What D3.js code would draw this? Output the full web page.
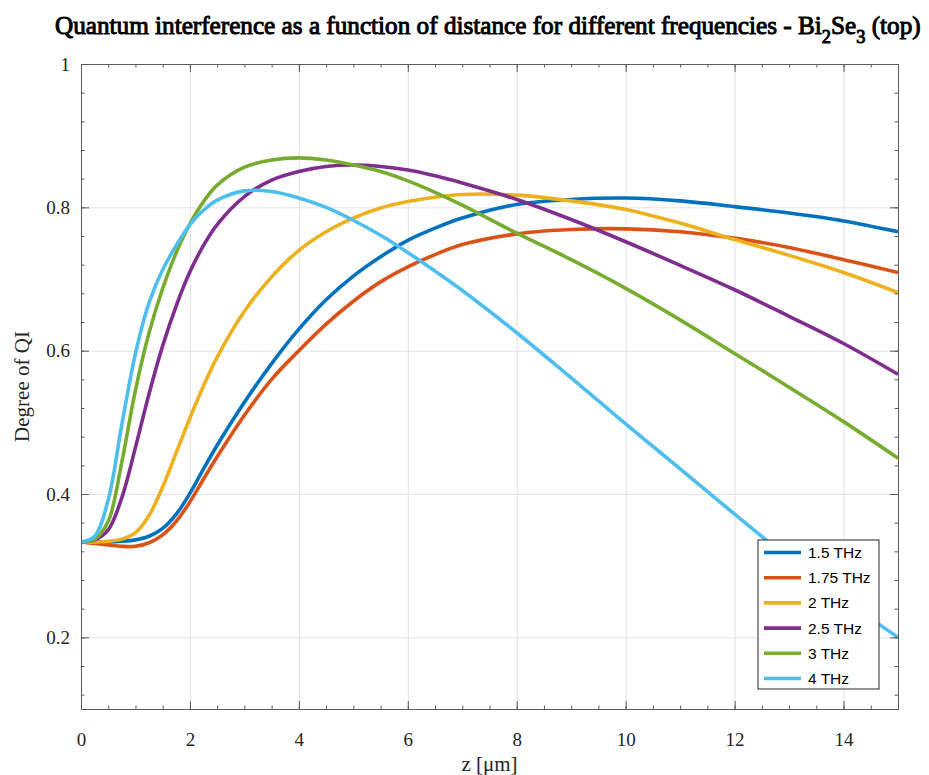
<!DOCTYPE html>
<html>
<head>
<meta charset="utf-8">
<script src="https://cdn.jsdelivr.net/npm/d3@7"></script>
<style>
  body { margin: 0; background: #fff; }
  svg { display: block; }
</style>
</head>
<body>
<div id="chart"></div>
<script>
// distance samples (um) shared by all series
const zValues = [0, 0.25, 0.5, 0.75, 1, 1.25, 1.5, 1.75, 2, 2.25, 2.5, 3, 3.5, 4, 4.5, 5, 5.5, 6, 6.5, 7, 8, 9, 10, 11, 12, 13, 14, 15];

const seriesNames = ["1.5 THz", "1.75 THz", "2 THz", "2.5 THz", "3 THz", "4 THz"];

const qi15 = [0.333, 0.333, 0.333, 0.334, 0.336, 0.341, 0.352, 0.372, 0.401, 0.435, 0.468, 0.528, 0.582, 0.630, 0.671, 0.704, 0.731, 0.754, 0.771, 0.785, 0.804, 0.811, 0.813, 0.809, 0.801, 0.792, 0.781, 0.766];
const qi175 = [0.333, 0.331, 0.329, 0.327, 0.327, 0.332, 0.343, 0.362, 0.389, 0.421, 0.452, 0.510, 0.560, 0.600, 0.637, 0.669, 0.696, 0.717, 0.734, 0.748, 0.763, 0.769, 0.770, 0.766, 0.757, 0.744, 0.727, 0.709];
const qi2 = [0.333, 0.333, 0.334, 0.337, 0.346, 0.370, 0.410, 0.458, 0.506, 0.551, 0.591, 0.655, 0.703, 0.740, 0.766, 0.785, 0.799, 0.808, 0.814, 0.818, 0.817, 0.809, 0.797, 0.778, 0.755, 0.733, 0.709, 0.681];
const qi25 = [0.333, 0.336, 0.350, 0.395, 0.465, 0.540, 0.607, 0.663, 0.710, 0.747, 0.776, 0.815, 0.838, 0.850, 0.857, 0.859, 0.857, 0.852, 0.844, 0.834, 0.811, 0.783, 0.752, 0.719, 0.685, 0.648, 0.610, 0.567];
const qi3 = [0.333, 0.337, 0.362, 0.445, 0.545, 0.625, 0.687, 0.737, 0.777, 0.808, 0.831, 0.856, 0.866, 0.869, 0.866, 0.859, 0.850, 0.837, 0.821, 0.803, 0.764, 0.727, 0.687, 0.643, 0.596, 0.549, 0.501, 0.450];
const qi4 = [0.333, 0.341, 0.392, 0.497, 0.596, 0.667, 0.713, 0.747, 0.776, 0.796, 0.810, 0.823, 0.822, 0.813, 0.800, 0.782, 0.761, 0.737, 0.711, 0.684, 0.625, 0.562, 0.498, 0.435, 0.372, 0.310, 0.253, 0.200];

const xTicks = [0, 2, 4, 6, 8, 10, 12, 14];
const yTicks = [0.2, 0.4, 0.6, 0.8, 1];

const colors = ["#0072BD", "#D95319", "#EDB120", "#7E2F8E", "#77AC30", "#4DBEEE"];
const allSeries = [qi15, qi175, qi2, qi25, qi3, qi4];

const width = 929;
const height = 775;
const margin = { top: 64, right: 31, bottom: 66, left: 81 };
const plotW = width - margin.left - margin.right;
const plotH = height - margin.top - margin.bottom;

const serif = "'Liberation Serif', 'Times New Roman', serif";
const sans = "'Liberation Sans', Arial, sans-serif";
const axisColor = "#5c5c5c";

const svg = d3.select("#chart")
  .append("svg")
  .attr("width", width)
  .attr("height", height);

svg.append("rect").attr("width", width).attr("height", height).attr("fill", "#fff");

const g = svg.append("g")
  .attr("transform", "translate(" + margin.left + "," + margin.top + ")");

const x = d3.scaleLinear().domain([0, 15]).range([0, plotW]);
const y = d3.scaleLinear().domain([0.1, 1]).range([plotH, 0]);

// grid
g.append("g")
  .attr("transform", "translate(0," + plotH + ")")
  .call(d3.axisBottom(x).tickValues(xTicks).tickSize(-plotH).tickFormat(""))
  .call(s => s.select(".domain").remove())
  .selectAll("line").attr("stroke", "#e3e3e3");
g.append("g")
  .call(d3.axisLeft(y).tickValues(yTicks).tickSize(-plotW).tickFormat(""))
  .call(s => s.select(".domain").remove())
  .selectAll("line").attr("stroke", "#e3e3e3");

// curves
g.append("clipPath").attr("id", "clip")
  .append("rect").attr("width", plotW).attr("height", plotH);

const line = d3.line()
  .x((d, i) => x(zValues[i]))
  .y(d => y(d))
  .curve(d3.curveCatmullRom.alpha(0.5));

g.append("g")
  .attr("clip-path", "url(#clip)")
  .selectAll("path")
  .data(allSeries)
  .enter()
  .append("path")
  .attr("d", line)
  .attr("fill", "none")
  .attr("stroke", (d, i) => colors[i])
  .attr("stroke-width", 3.6)
  .attr("stroke-linejoin", "round");

// axes (ticks pointing inward, box on)
const xMinor = d3.range(0, 15.01, 0.5);
const yMinor = d3.range(0.12, 1.001, 0.04);

function styleAxis(sel) {
  sel.selectAll("line").attr("stroke", axisColor);
  sel.select(".domain").attr("stroke", axisColor);
}

g.append("g").attr("transform", "translate(0," + plotH + ")")
  .call(d3.axisBottom(x).tickValues(xMinor).tickSize(-3.5).tickSizeOuter(0).tickFormat(""))
  .call(styleAxis);
g.append("g").attr("transform", "translate(0," + plotH + ")")
  .call(d3.axisBottom(x).tickValues(xTicks).tickSize(-8).tickSizeOuter(0).tickPadding(24).tickFormat(d3.format("d")))
  .call(styleAxis);
g.append("g")
  .call(d3.axisTop(x).tickValues(xMinor).tickSize(-3.5).tickSizeOuter(0).tickFormat(""))
  .call(styleAxis);
g.append("g")
  .call(d3.axisTop(x).tickValues(xTicks).tickSize(-8).tickSizeOuter(0).tickFormat(""))
  .call(styleAxis);

g.append("g")
  .call(d3.axisLeft(y).tickValues(yMinor).tickSize(-3.5).tickSizeOuter(0).tickFormat(""))
  .call(styleAxis);
g.append("g")
  .call(d3.axisLeft(y).tickValues(yTicks).tickSize(-8).tickSizeOuter(0).tickPadding(11)
    .tickFormat(d => d === 1 ? "1" : d3.format(".1f")(d)))
  .call(styleAxis);
g.append("g").attr("transform", "translate(" + plotW + ",0)")
  .call(d3.axisRight(y).tickValues(yMinor).tickSize(-3.5).tickSizeOuter(0).tickFormat(""))
  .call(styleAxis);
g.append("g").attr("transform", "translate(" + plotW + ",0)")
  .call(d3.axisRight(y).tickValues(yTicks).tickSize(-8).tickSizeOuter(0).tickFormat(""))
  .call(styleAxis);

g.selectAll(".tick text")
  .attr("fill", "#262626")
  .style("font-family", serif)
  .style("font-size", "19px");

// axis labels
svg.append("text")
  .attr("x", margin.left + plotW / 2)
  .attr("y", 771)
  .attr("text-anchor", "middle")
  .attr("fill", "#262626")
  .style("font-family", serif)
  .style("font-size", "21px")
  .text("z [\u03bcm]");

svg.append("text")
  .attr("transform", "translate(29," + (margin.top + plotH / 2) + ") rotate(-90)")
  .attr("text-anchor", "middle")
  .attr("fill", "#262626")
  .style("font-family", serif)
  .style("font-size", "21px")
  .text("Degree of QI");

// title with subscripts, squeezed to the reference width
// (regular serif with a thin stroke, since the bold serif face is not picked up)
const title = svg.append("text")
  .attr("y", 34)
  .attr("fill", "#000")
  .attr("stroke", "#000")
  .attr("stroke-width", 1)
  .style("font-family", serif)
  .style("font-size", "26px");
title.append("tspan").text("Quantum interference as a function of distance for different frequencies - Bi");
title.append("tspan").attr("dy", 9).style("font-size", "19px").text("2");
title.append("tspan").attr("dy", -9).text("Se");
title.append("tspan").attr("dy", 9).style("font-size", "19px").text("3");
title.append("tspan").attr("dy", -9).text(" (top)");

const tw = title.node().getBBox().width;
const targetLeft = 55, targetWidth = 866;
title.attr("transform", "translate(" + targetLeft + ",0) scale(" + (targetWidth / tw) + ",1)");

// legend
const legend = svg.append("g").attr("transform", "translate(758,540)");
legend.append("rect")
  .attr("width", 121)
  .attr("height", 149)
  .attr("fill", "#fff")
  .attr("stroke", "#262626")
  .attr("stroke-width", 1);

const rows = legend.selectAll("g.row")
  .data(seriesNames)
  .enter()
  .append("g")
  .attr("class", "row")
  .attr("transform", (d, i) => "translate(0," + (12.5 + i * 25.2) + ")");

rows.append("line")
  .attr("x1", 6).attr("x2", 43)
  .attr("stroke", (d, i) => colors[i])
  .attr("stroke-width", 3.6);

rows.append("text")
  .attr("x", 50)
  .attr("dy", "0.36em")
  .attr("fill", "#000")
  .style("font-family", sans)
  .style("font-size", "15.5px")
  .text(d => d);
</script>
</body>
</html>
